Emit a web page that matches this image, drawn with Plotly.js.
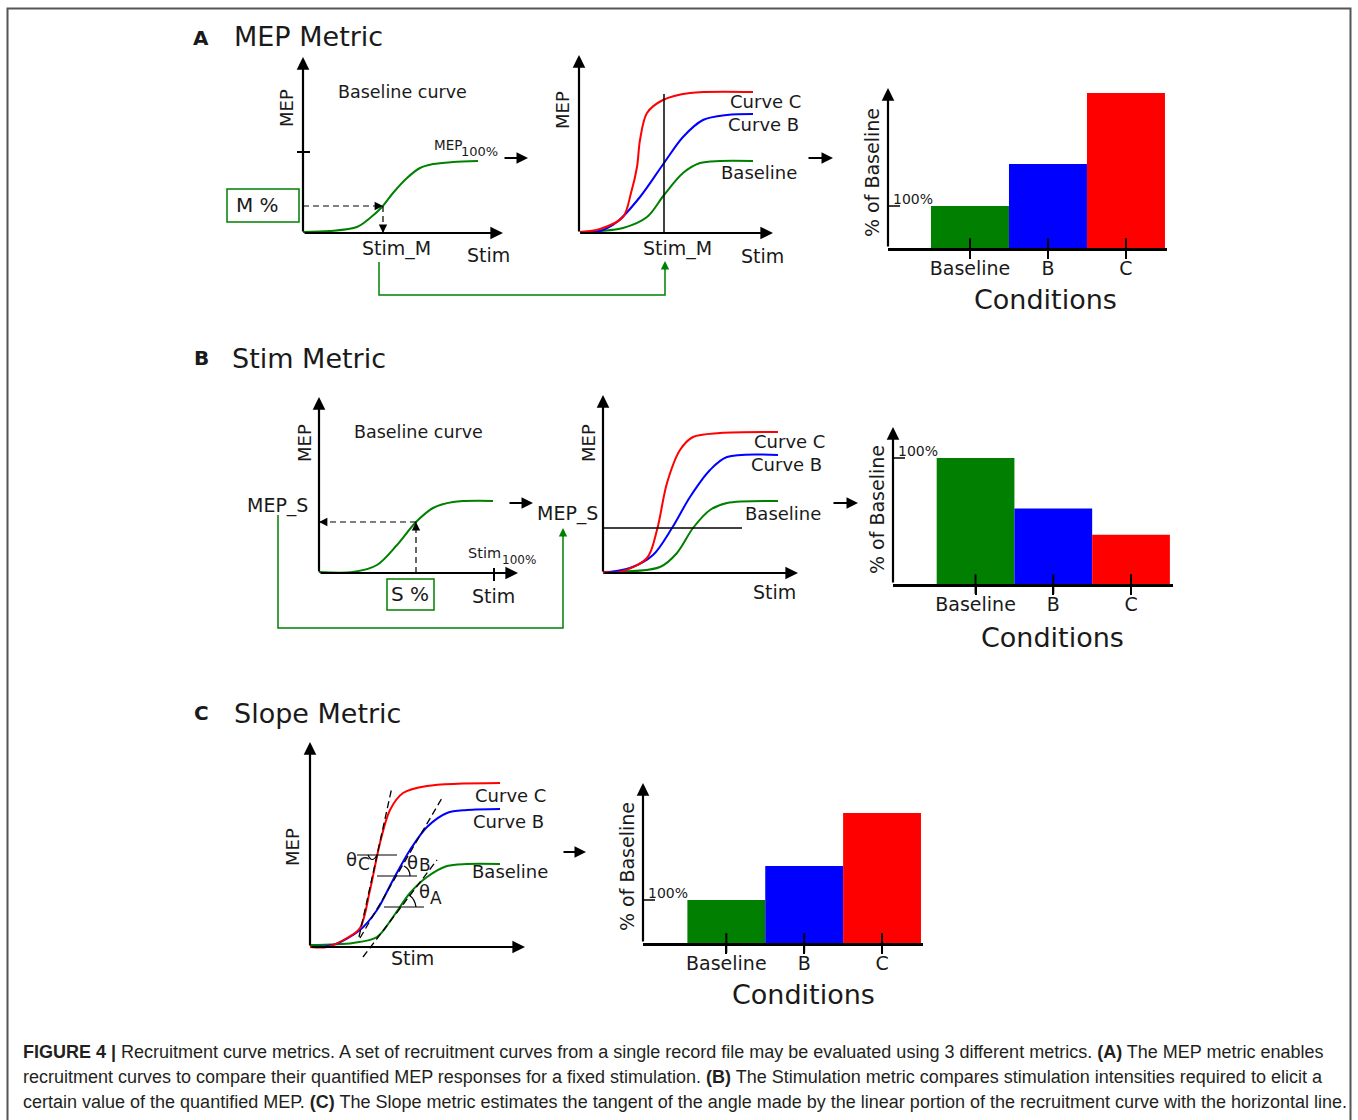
<!DOCTYPE html>
<html><head><meta charset="utf-8">
<script src="https://cdn.plot.ly/plotly-3.0.1.min.js"></script>
<style>html,body{margin:0;padding:0;background:#fff;}#chart{width:1358px;height:1120px;}</style>
</head><body><div id="chart"></div>
<script>
// ================= DATA =================
const conditions = ['Baseline', 'B', 'C'];
const mepMetricPct = [100, 200, 369];
const stimMetricPct = [100, 60, 39];
const slopeMetricPct = [100, 179, 302];

// Panel A1: baseline recruitment curve (stim units, MEP units)
const a1Stim = [0, 27, 54, 67, 79, 90, 104, 117, 130, 150, 175];
const a1Mep  = [1, 2, 6, 15, 26, 40, 55, 65, 69, 71, 72];
const a1StimM = 80, a1MepM = 27, a1Mep100 = 81;

// Panel A2: three curves
const a2RedStim = [1, 21, 44, 52, 58, 61, 68, 84, 111, 174];
const a2RedMep  = [1, 4, 16, 40, 66, 93, 120, 133, 140, 141];
const a2BlueStim = [1, 21, 38, 61, 85, 104, 124, 148, 174];
const a2BlueMep  = [0, 2, 11, 36, 70, 96, 113, 118, 119];
const a2GreenStim = [1, 21, 44, 68, 85, 104, 121, 141, 174];
const a2GreenMep  = [1, 2, 5, 16, 38, 60, 70, 72, 72];
const a2StimM = 85, a2LineTop = 139;

// Panel B1: baseline curve
const b1Stim = [0, 34, 58, 78, 97, 114, 134, 174];
const b1Mep  = [1, 1, 8, 28, 51, 65, 71, 72];
const b1StimS = 97, b1MepS = 51, b1Stim100 = 175;

// Panel B2: three curves
const b2RedStim = [0, 17, 44, 54, 64, 77, 90, 117, 175];
const b2RedMep  = [1, 1, 15, 43, 90, 123, 136, 140, 141];
const b2BlueStim = [0, 27, 50, 69, 87, 107, 124, 175];
const b2BlueMep  = [0, 5, 18, 45, 76, 103, 116, 118];
const b2GreenStim = [0, 57, 74, 90, 107, 124, 175];
const b2GreenMep  = [1, 6, 20, 45, 63, 70, 72];
const b2MepS = 45, b2LineEnd = 139;

// Panel C1: three curves + tangents
const c1RedStim = [0, 17, 37, 50, 60, 70, 80, 93, 117, 190];
const c1RedMep  = [0, 0, 9, 19, 57, 104, 137, 154, 161, 164];
const c1BlueStim = [0, 23, 50, 67, 83, 100, 117, 137, 157, 190];
const c1BlueMep  = [0, 2, 17, 37, 67, 97, 120, 134, 137, 138];
const c1GreenStim = [0, 43, 67, 83, 100, 117, 137, 157, 190];
const c1GreenMep  = [2, 4, 10, 30, 54, 70, 81, 83, 83];
const c1TangentC = [[49, 10], [82, 160]];
const c1TangentB = [[50, 9], [132, 149]];
const c1TangentA = [[53, -10], [127, 87]];
const c1HorizC = [92, 47, 87];   // [mep, stimFrom, stimTo]
const c1HorizB = [71, 67, 107];
const c1HorizA = [40, 74, 114];

// ================= STYLE / LAYOUT =================
const W = 1358, H = 1120;
const px = x => x / W, py = y => 1 - y / H;
const FONT = 'DejaVu Sans, Verdana, sans-serif';
const TXT = '#1a1a1a';
const GREEN = '#008000', BLUE = '#0000ff', RED = '#ff0000';
const BARGREEN = '#007f00';

const layout = {
  width: W, height: H, autosize: false,
  margin: {l: 0, r: 0, t: 0, b: 0, pad: 0},
  showlegend: false, paper_bgcolor: '#fff', plot_bgcolor: 'rgba(0,0,0,0)',
  shapes: [], annotations: []
};
const traces = [];
const A = layout.annotations, S = layout.shapes;
const ax = s => 'x' + s, ay = s => 'y' + s;
const HEAD = {arrowhead: 2, arrowsize: 1.15, arrowwidth: 2.2, arrowcolor: '#000', standoff: 0};

function curveAxes(s, ox, oy, tx, ty, pad) {
  layout['xaxis' + s] = {domain: [px(ox - pad), px(tx)], range: [-pad, tx - ox], visible: false, fixedrange: true, anchor: ay(s)};
  layout['yaxis' + s] = {domain: [py(oy + pad), py(ty)], range: [-pad, oy - ty], visible: false, fixedrange: true, anchor: ax(s)};
  const st = Object.assign({showarrow: true, text: '', xref: ax(s), yref: ay(s), axref: ax(s), ayref: ay(s)}, HEAD);
  A.push(Object.assign({}, st, {x: tx - ox, y: 0, ax: 0, ay: 0}));
  A.push(Object.assign({}, st, {x: 0, y: oy - ty, ax: 0, ay: 0}));
}
function curve(s, xs, ys, color) {
  traces.push({type: 'scatter', mode: 'lines', x: xs, y: ys, xaxis: ax(s), yaxis: ay(s),
    line: {color: color, width: 2, shape: 'spline', smoothing: 0.9}, hoverinfo: 'skip'});
}
function barPanel(s, axX, endX, oy, ty, xr, ytop, vals) {
  layout['xaxis' + s] = {domain: [px(axX), px(endX)], range: xr, type: 'category', anchor: ay(s),
    showline: true, linecolor: '#000', linewidth: 2.5, ticks: 'outside', ticklen: 8, tickwidth: 2, tickcolor: '#000',
    ticklabelstandoff: -6,
    tickfont: {family: FONT, size: 19, color: TXT}, showgrid: false, zeroline: false, fixedrange: true};
  layout['yaxis' + s] = {domain: [py(oy), py(ty)], range: [0, ytop], visible: false, fixedrange: true, anchor: ax(s)};
  traces.push({type: 'bar', x: conditions, y: vals, xaxis: ax(s), yaxis: ay(s), width: 1,
    marker: {color: [BARGREEN, BLUE, RED], line: {width: 0}}, hoverinfo: 'skip'});
  traces.push({type: 'scatter', mode: 'markers', x: conditions, y: conditions.map(() => 0), xaxis: ax(s), yaxis: ay(s),
    cliponaxis: false, marker: {symbol: 'line-ns', size: 14, line: {width: 2, color: '#000'}}, hoverinfo: 'skip'});
  A.push(Object.assign({showarrow: true, text: '', xref: ax(s), yref: ay(s), axref: ax(s), ayref: ay(s),
    x: xr[0], y: ytop, ax: xr[0], ay: 0}, HEAD));
  S.push({type: 'line', xref: ax(s), yref: ay(s), xsizemode: 'pixel', xanchor: xr[0], x0: 0, x1: 12, y0: 100, y1: 100,
    line: {color: '#000', width: 1.5}});
  A.push({xref: ax(s), yref: ay(s), x: xr[0], y: 100, xanchor: 'left', yanchor: 'bottom', xshift: 3, yshift: -3,
    showarrow: false, text: '100%', font: {family: FONT, size: 14, color: TXT}});
}
function txt(x, y, text, size, opts) {
  A.push(Object.assign({xref: 'paper', yref: 'paper', x: px(x), y: py(y), text: text, showarrow: false,
    font: {family: FONT, size: size, color: TXT}, xanchor: 'center', yanchor: 'middle'}, opts || {}));
}
function parrow(hx, hy, len) {
  A.push(Object.assign({xref: 'paper', yref: 'paper', x: px(hx), y: py(hy), ax: -len, ay: 0, text: '', showarrow: true}, HEAD, {arrowwidth: 2}));
}
function pline(pts, color, width, dash) {
  S.push({type: 'path', xref: 'paper', yref: 'paper',
    path: pts.map((p, i) => (i ? 'L' : 'M') + px(p[0]).toFixed(5) + ',' + py(p[1]).toFixed(5)).join(' '),
    line: {color: color, width: width, dash: dash || 'solid'}});
}
function prect(x0, y0, x1, y1, color) {
  S.push({type: 'rect', xref: 'paper', yref: 'paper', x0: px(x0), x1: px(x1), y0: py(y1), y1: py(y0),
    line: {color: color, width: 1.5}});
}
function dline(s, x0, y0, x1, y1, dash, width) {
  S.push({type: 'line', xref: ax(s), yref: ay(s), x0: x0, y0: y0, x1: x1, y1: y1,
    line: {color: '#000', width: width || 1.2, dash: dash || 'solid'}});
}
function smallHead(s, x, y, tx, ty, color) {
  A.push({xref: s === null ? 'paper' : ax(s), yref: s === null ? 'paper' : ay(s), x: x, y: y, ax: tx, ay: ty,
    text: '', showarrow: true, arrowhead: 2, arrowsize: 1.4, arrowwidth: 1.2, arrowcolor: color || '#000', standoff: 0});
}
const FINE_DASH = '6px,4px', TAN_DASH = '7px,4px';

// Frame
S.push({type: 'rect', xref: 'paper', yref: 'paper', x0: px(7.5), x1: px(1350.5), y0: py(1135), y1: py(8.5),
  line: {color: '#555', width: 2}});

// ---------- Row A ----------
txt(201, 38, '<b>A</b>', 20);
txt(232, 36, 'MEP Metric', 27, {xanchor: 'left'});
// A1
curveAxes('', 303, 233, 503, 57, 8);
curve('', a1Stim, a1Mep, GREEN);
S.push({type: 'line', xref: 'x', yref: 'y', xsizemode: 'pixel', xanchor: 0, x0: -6, x1: 7, y0: a1Mep100, y1: a1Mep100, line: {color: '#000', width: 2}});
dline('', 0, a1MepM, a1StimM, a1MepM, FINE_DASH);
dline('', a1StimM, a1MepM, a1StimM, 0, FINE_DASH);
smallHead('', a1StimM, a1MepM, -9, 0);
smallHead('', a1StimM, 0, 0, -9);
txt(287, 108, 'MEP', 18, {textangle: -90});
txt(402, 92, 'Baseline curve', 17.5);
txt(432, 145, 'MEP', 13.5, {xanchor: 'left'});
txt(459, 152, '100%', 13, {xanchor: 'left'});
prect(227, 189, 299, 222, GREEN);
txt(257, 205, 'M %', 20);
txt(396, 248, 'Stim_M', 19);
txt(488, 255, 'Stim', 19);
parrow(528, 158, 25);
// A2
curveAxes(2, 579, 233, 773, 55, 8);
curve(2, a2GreenStim, a2GreenMep, GREEN);
curve(2, a2BlueStim, a2BlueMep, BLUE);
curve(2, a2RedStim, a2RedMep, RED);
dline(2, a2StimM, 0, a2StimM, a2LineTop, 'solid', 1.5);
txt(563, 110, 'MEP', 18, {textangle: -90});
txt(728, 101, 'Curve C', 18, {xanchor: 'left'});
txt(726, 124, 'Curve B', 18, {xanchor: 'left'});
txt(719, 172, 'Baseline', 18, {xanchor: 'left'});
txt(677, 248, 'Stim_M', 19);
txt(762, 256, 'Stim', 19);
parrow(833, 158, 26);
// connector
pline([[379, 262], [379, 295], [665, 295], [665, 268]], GREEN, 1.5);
smallHead(null, px(665), py(261), 0, 10, GREEN);
// A3
barPanel(3, 888, 1167, 248, 88, [-1.051, 2.526], 381, mepMetricPct);
txt(872, 173, '% of Baseline', 19, {textangle: -90});
txt(1045, 299, 'Conditions', 27);

// ---------- Row B ----------
txt(201, 358, '<b>B</b>', 20);
txt(230, 358, 'Stim Metric', 27, {xanchor: 'left'});
// B1
curveAxes(4, 319, 573, 518, 397, 8);
curve(4, b1Stim, b1Mep, GREEN);
S.push({type: 'line', xref: 'x4', yref: 'y4', ysizemode: 'pixel', yanchor: 0, y0: -9, y1: 5, x0: b1Stim100, x1: b1Stim100, line: {color: '#000', width: 2}});
dline(4, b1StimS, 0, b1StimS, b1MepS, FINE_DASH);
dline(4, b1StimS, b1MepS, 0, b1MepS, FINE_DASH);
smallHead(4, 0, b1MepS, 9, 0);
smallHead(4, b1StimS, b1MepS, 0, 9);
txt(304, 443, 'MEP', 18, {textangle: -90});
txt(418, 432, 'Baseline curve', 17.5);
txt(277, 505, 'MEP_S', 19);
txt(466, 553, 'Stim', 14.5, {xanchor: 'left'});
txt(500, 560, '100%', 12, {xanchor: 'left'});
prect(387, 579, 434, 610, GREEN);
txt(410, 594, 'S %', 20);
txt(493, 596, 'Stim', 19);
parrow(533, 503, 25);
pline([[278, 515], [278, 628], [563, 628], [563, 535]], GREEN, 1.5);
smallHead(null, px(563), py(528), 0, 10, GREEN);
// B2
curveAxes(5, 603, 573, 798, 395, 8);
curve(5, b2GreenStim, b2GreenMep, GREEN);
curve(5, b2BlueStim, b2BlueMep, BLUE);
curve(5, b2RedStim, b2RedMep, RED);
dline(5, 0, b2MepS, b2LineEnd, b2MepS, 'solid', 1.5);
txt(567, 513, 'MEP_S', 19);
txt(588, 443, 'MEP', 18, {textangle: -90});
txt(752, 441, 'Curve C', 18, {xanchor: 'left'});
txt(749, 464, 'Curve B', 18, {xanchor: 'left'});
txt(743, 513, 'Baseline', 18, {xanchor: 'left'});
txt(774, 592, 'Stim', 19);
parrow(858, 503, 26);
// B3
barPanel(6, 893, 1173, 584, 427, [-1.062, 2.54], 124.6, stimMetricPct);
txt(877, 510, '% of Baseline', 19, {textangle: -90});
txt(1052, 637, 'Conditions', 27);

// ---------- Row C ----------
txt(201, 713, '<b>C</b>', 20);
txt(232, 713, 'Slope Metric', 27, {xanchor: 'left'});
// C1
curveAxes(7, 310, 947, 525, 742, 16);
curve(7, c1GreenStim, c1GreenMep, GREEN);
curve(7, c1BlueStim, c1BlueMep, BLUE);
curve(7, c1RedStim, c1RedMep, RED);
[c1TangentC, c1TangentB, c1TangentA].forEach(t => dline(7, t[0][0], t[0][1], t[1][0], t[1][1], TAN_DASH, 1.3));
[c1HorizC, c1HorizB, c1HorizA].forEach(h => dline(7, h[1], h[0], h[2], h[0], 'solid', 1.2));
// angle arcs
[[[368, 855], [372, 864], [377, 855]], [[410, 876], [410, 869], [404, 866]], [[416, 907], [415, 899], [409, 895]]].forEach(a => {
  S.push({type: 'path', xref: 'paper', yref: 'paper',
    path: 'M' + px(a[0][0]) + ',' + py(a[0][1]) + ' Q' + px(a[1][0]) + ',' + py(a[1][1]) + ' ' + px(a[2][0]) + ',' + py(a[2][1]),
    line: {color: '#000', width: 1.2}});
});
txt(292, 847, 'MEP', 18, {textangle: -90});
txt(473, 795, 'Curve C', 18, {xanchor: 'left'});
txt(471, 822, 'Curve B', 18, {xanchor: 'left'});
txt(470, 871, 'Baseline', 18, {xanchor: 'left'});
txt(413, 958, 'Stim', 19);
// theta labels
txt(344, 859, 'θ', 18, {xanchor: 'left'});
txt(356, 864, 'C', 17, {xanchor: 'left'});
txt(405, 862, 'θ', 18, {xanchor: 'left'});
txt(417, 865, 'B', 17, {xanchor: 'left'});
txt(417, 892, 'θ', 18, {xanchor: 'left'});
txt(428, 898, 'A', 17, {xanchor: 'left'});
parrow(586, 852, 24);
// C3
barPanel(8, 643, 923, 943, 783, [-1.07, 2.526], 372, slopeMetricPct);
txt(627, 867, '% of Baseline', 19, {textangle: -90});
txt(803, 994, 'Conditions', 27);

// ---------- Caption ----------
const capFont = {family: 'Liberation Sans, Arial, sans-serif', size: 18, color: '#231f20'};
const captionLines = [
  '<b>FIGURE 4 |</b> Recruitment curve metrics. A set of recruitment curves from a single record file may be evaluated using 3 different metrics. <b>(A)</b> The MEP metric enables',
  'recruitment curves to compare their quantified MEP responses for a fixed stimulation. <b>(B)</b> The Stimulation metric compares stimulation intensities required to elicit a',
  'certain value of the quantified MEP. <b>(C)</b> The Slope metric estimates the tangent of the angle made by the linear portion of the recruitment curve with the horizontal line.'
];
captionLines.forEach((t, i) => txt(21, 1052 + 25 * i, t, 18, {xanchor: 'left', font: capFont}));

Plotly.newPlot('chart', traces, layout, {staticPlot: true, displayModeBar: false});
</script>
</body></html>
